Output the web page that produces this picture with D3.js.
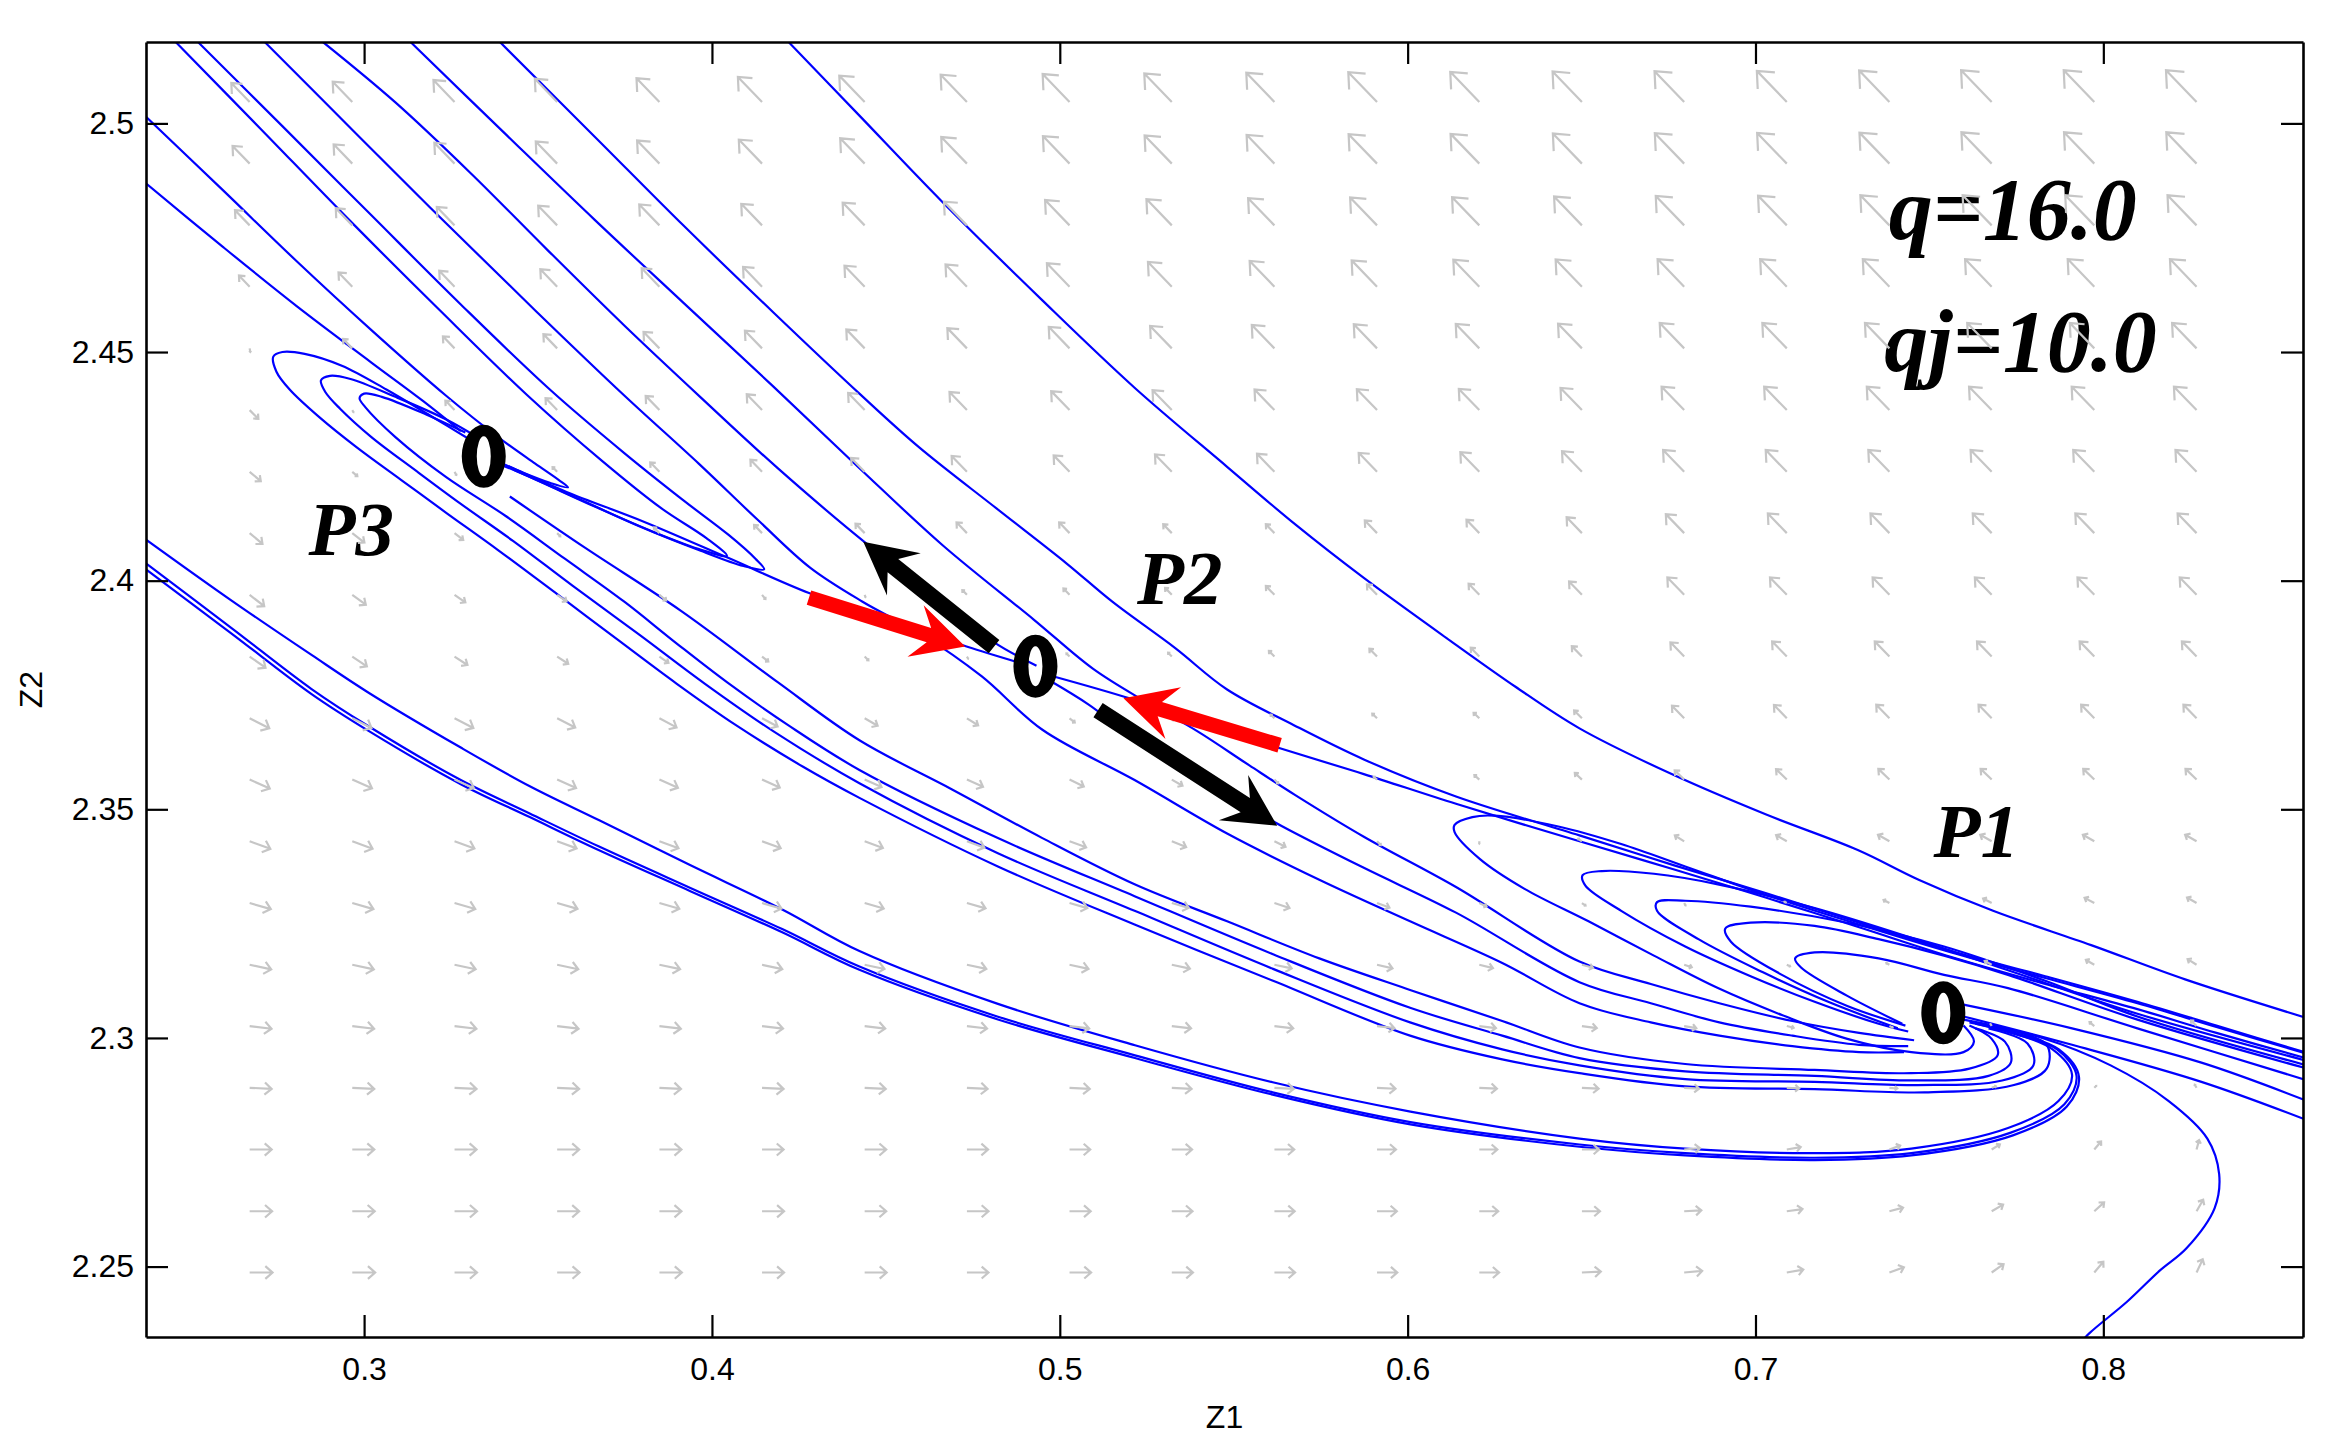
<!DOCTYPE html>
<html>
<head>
<meta charset="utf-8">
<script src="https://cdn.jsdelivr.net/npm/d3@7/dist/d3.min.js"></script>
<style>
  body { margin: 0; background: #fff; }
  svg { display: block; }
</style>
</head>
<body>
<div id="chart"></div>
<script>
// ---- axis limits and ticks ----
const z1Domain = [0.2373, 0.8574];
const z2Domain = [2.2346, 2.5178];
const xTicks = [0.3, 0.4, 0.5, 0.6, 0.7, 0.8];
const yTicks = [2.25, 2.3, 2.35, 2.4, 2.45, 2.5];

// ---- direction field (quiver) grid ----
const gridZ1 = [0.2671, 0.2966, 0.3260, 0.3555, 0.3849, 0.4144, 0.4439, 0.4733, 0.5028, 0.5322,
                0.5617, 0.5912, 0.6206, 0.6501, 0.6795, 0.7090, 0.7385, 0.7679, 0.7974, 0.8268];
const gridZ2 = [2.5047, 2.4912, 2.4777, 2.4643, 2.4508, 2.4373, 2.4238, 2.4104, 2.3969, 2.3834,
                2.3699, 2.3565, 2.3430, 2.3295, 2.3160, 2.3026, 2.2891, 2.2756, 2.2621, 2.2487];

// arrow direction in degrees (0 = right, 90 = up), one row per gridZ2 value
const fieldAngle = [
  [134,134,134,134,134,134,134,134,134,134,134,134,134,134,134,134,134,134,134,134],
  [134,134,134,134,134,134,134,134,134,134,134,134,134,134,134,134,134,134,134,134],
  [134,134,134,134,134,134,134,134,134,134,134,134,134,134,134,134,134,134,134,134],
  [134,134,134,134,134,134,134,134,134,134,134,134,134,134,134,134,134,134,134,134],
  [-80,134,134,134,134,134,134,134,134,134,134,134,134,134,134,134,134,134,134,134],
  [-45,-60,134,134,134,134,134,134,134,134,134,134,134,134,134,134,134,134,134,134],
  [-40,-40,-60,134,134,134,134,134,134,134,134,134,134,134,134,134,134,134,134,134],
  [-40,-38,-38,-45,134,134,134,134,134,134,134,134,134,134,134,134,134,134,134,134],
  [-38,-36,-35,-35,-40,-50,-70,134,134,134,134,134,134,134,134,134,134,134,134,134],
  [-35,-34,-33,-33,-35,-38,-45,-60,134,134,134,134,134,134,134,134,134,134,134,134],
  [-27,-27,-27,-27,-28,-28,-30,-32,-38,-60,136,136,136,135,134,134,134,134,134,134],
  [-24,-24,-24,-24,-24,-24,-24,-24,-26,-30,-45,140,138,137,136,136,136,136,136,136],
  [-20,-20,-20,-20,-20,-20,-20,-20,-20,-22,-26,-45,-90,145,148,150,150,150,150,150],
  [-16,-16,-16,-16,-16,-16,-16,-16,-16,-16,-18,-20,-25,-35,-60,150,152,152,152,150],
  [-12,-12,-12,-12,-12,-12,-12,-12,-12,-12,-12,-13,-14,-15,-18,-25,150,152,150,148],
  [-7,-7,-7,-7,-7,-7,-7,-7,-7,-7,-7,-7,-7,-8,-10,-14,-25,120,140,135],
  [-3,-3,-3,-3,-3,-3,-3,-3,-3,-3,-3,-3,-3,-3,-3,-3,-5,20,45,120],
  [0,0,0,0,0,0,0,0,0,0,0,0,0,0,5,10,20,32,50,75],
  [0,0,0,0,0,0,0,0,0,0,0,0,0,0,3,8,15,30,42,60],
  [0,0,0,0,0,0,0,0,0,0,0,0,0,3,5,10,20,35,50,65]
];

// relative arrow length (1 = longest arrow)
const fieldMag = [
  [0.60,0.64,0.69,0.73,0.75,0.79,0.83,0.86,0.88,0.90,0.92,0.94,0.95,0.96,0.97,0.98,0.99,1.00,1.00,1.00],
  [0.56,0.61,0.66,0.70,0.73,0.76,0.80,0.84,0.87,0.89,0.91,0.93,0.94,0.95,0.96,0.97,0.98,0.99,0.99,0.99],
  [0.48,0.54,0.58,0.62,0.66,0.68,0.72,0.75,0.80,0.83,0.86,0.88,0.89,0.91,0.93,0.94,0.95,0.95,0.95,0.95],
  [0.35,0.45,0.50,0.55,0.58,0.62,0.66,0.70,0.74,0.78,0.81,0.83,0.85,0.86,0.87,0.87,0.87,0.87,0.87,0.87],
  [0.08,0.30,0.38,0.45,0.52,0.56,0.60,0.64,0.68,0.71,0.74,0.76,0.77,0.78,0.80,0.80,0.80,0.80,0.80,0.80],
  [0.28,0.05,0.30,0.38,0.45,0.50,0.54,0.57,0.60,0.63,0.65,0.66,0.67,0.70,0.74,0.74,0.74,0.74,0.74,0.74],
  [0.33,0.15,0.08,0.15,0.30,0.38,0.44,0.50,0.52,0.55,0.57,0.60,0.62,0.65,0.69,0.69,0.69,0.69,0.69,0.69],
  [0.38,0.35,0.25,0.10,0.18,0.26,0.30,0.34,0.34,0.28,0.28,0.40,0.42,0.50,0.60,0.62,0.62,0.62,0.62,0.62],
  [0.42,0.38,0.30,0.26,0.20,0.12,0.05,0.15,0.20,0.22,0.28,0.33,0.35,0.42,0.55,0.55,0.55,0.55,0.55,0.55],
  [0.44,0.40,0.35,0.30,0.25,0.18,0.12,0.05,0.10,0.12,0.18,0.25,0.28,0.33,0.45,0.48,0.48,0.48,0.48,0.48],
  [0.50,0.49,0.48,0.46,0.44,0.40,0.34,0.30,0.15,0.05,0.12,0.15,0.18,0.25,0.40,0.42,0.43,0.43,0.43,0.43],
  [0.50,0.49,0.48,0.47,0.46,0.44,0.42,0.40,0.36,0.28,0.12,0.10,0.15,0.22,0.30,0.34,0.35,0.35,0.35,0.35],
  [0.50,0.49,0.48,0.47,0.46,0.45,0.44,0.42,0.40,0.35,0.28,0.12,0.05,0.10,0.25,0.28,0.30,0.30,0.30,0.30],
  [0.50,0.50,0.49,0.48,0.47,0.46,0.45,0.44,0.42,0.40,0.36,0.30,0.18,0.10,0.06,0.06,0.15,0.22,0.25,0.25],
  [0.50,0.50,0.49,0.49,0.48,0.47,0.46,0.45,0.44,0.42,0.40,0.36,0.32,0.26,0.18,0.08,0.08,0.18,0.22,0.24],
  [0.50,0.50,0.50,0.49,0.49,0.48,0.47,0.46,0.45,0.44,0.43,0.40,0.38,0.34,0.28,0.16,0.08,0.05,0.14,0.18],
  [0.50,0.50,0.50,0.50,0.49,0.49,0.48,0.47,0.46,0.45,0.44,0.42,0.40,0.38,0.34,0.28,0.18,0.10,0.06,0.08],
  [0.50,0.50,0.50,0.50,0.50,0.49,0.49,0.48,0.47,0.46,0.45,0.43,0.41,0.39,0.36,0.32,0.26,0.22,0.24,0.22],
  [0.51,0.51,0.51,0.50,0.50,0.50,0.49,0.49,0.48,0.47,0.46,0.45,0.43,0.41,0.39,0.36,0.32,0.30,0.30,0.30],
  [0.52,0.52,0.51,0.51,0.51,0.50,0.50,0.49,0.49,0.48,0.47,0.46,0.45,0.43,0.41,0.38,0.35,0.33,0.32,0.33]
];

// ---- trajectories, [Z1, Z2] ----
const trajT1 = [[0.4219,2.5179],[0.4424,2.5017],[0.4659,2.4831],[0.4950,2.4613],[0.5215,2.4422],[0.5481,2.4249],[0.5677,2.4123],[0.5874,2.4006],[0.6122,2.3869],[0.6310,2.3768],[0.6494,2.3677],[0.6759,2.3577],[0.7029,2.3489],[0.7294,2.3411],[0.7469,2.3346],[0.7683,2.3278],[0.7965,2.3203],[0.8235,2.3128],[0.8600,2.3040]];
const trajB = [[0.3389,2.5179],[0.3663,2.4971],[0.3919,2.4776],[0.4176,2.4587],[0.4424,2.4409],[0.4595,2.4292],[0.4818,2.4158],[0.5019,2.4038],[0.5151,2.3954],[0.5331,2.3853],[0.5481,2.3762],[0.5673,2.3684],[0.5874,2.3609],[0.6139,2.3528],[0.6494,2.3443],[0.6764,2.3378],[0.7029,2.3317],[0.7298,2.3252],[0.7563,2.3190],[0.7833,2.3135],[0.8098,2.3079],[0.8325,2.3027],[0.8600,2.2964]];
const trajC = [[0.3132,2.5179],[0.3406,2.4977],[0.3663,2.4789],[0.3919,2.4607],[0.4176,2.4425],[0.4424,2.4246],[0.4664,2.4077],[0.4925,2.3915],[0.5096,2.3807],[0.5245,2.3736],[0.5395,2.3671],[0.5545,2.3596],[0.5677,2.3531],[0.5874,2.3440],[0.6139,2.3330],[0.6494,2.3167],[0.6699,2.3118],[0.6896,2.3076],[0.7106,2.3037],[0.7298,2.3011],[0.7456,2.2995]];
const trajStableRight = [[0.4980,2.3791],[0.5203,2.3742],[0.5416,2.3687],[0.5626,2.3635],[0.5874,2.3577],[0.6139,2.3512],[0.6494,2.3430],[0.6764,2.3369],[0.7029,2.3307],[0.7298,2.3242],[0.7563,2.3177],[0.7833,2.3118],[0.8098,2.3063],[0.8325,2.3011],[0.8600,2.2952]];
const trajStableLeft = [[0.3415,2.4250],[0.3582,2.4194],[0.3804,2.4129],[0.4043,2.4051],[0.4279,2.3973],[0.4518,2.3911],[0.4732,2.3856],[0.4886,2.3820]];
const trajUnstableUp = [[0.4933,2.3814],[0.4809,2.3866],[0.4625,2.3976],[0.4446,2.4080],[0.4189,2.4246],[0.3966,2.4402],[0.3748,2.4558],[0.3526,2.4724],[0.3308,2.4890],[0.3090,2.5046],[0.2880,2.5179]];
const trajUnstableDown = [[0.4972,2.3781],[0.5083,2.3729],[0.5215,2.3655],[0.5348,2.3599],[0.5519,2.3515],[0.5639,2.3463],[0.5874,2.3372],[0.6139,2.3274],[0.6494,2.3122],[0.6699,2.3076],[0.6896,2.3034],[0.7106,2.3005],[0.7298,2.2985],[0.7439,2.2982]];
const trajL = [[0.2713,2.5179],[0.2978,2.4977],[0.3235,2.4782],[0.3492,2.4591],[0.3748,2.4405],[0.3962,2.4256],[0.4133,2.4132],[0.4283,2.4028],[0.4433,2.3954],[0.4604,2.3882],[0.4775,2.3791],[0.4950,2.3674],[0.5215,2.3564],[0.5481,2.3447],[0.5746,2.3346],[0.6007,2.3255],[0.6272,2.3164],[0.6494,2.3076],[0.6699,2.3034],[0.6896,2.3005],[0.7106,2.2982],[0.7298,2.2969],[0.7427,2.2969]];
const trajH1 = [[0.2360,2.5024],[0.2594,2.4854],[0.2807,2.4698],[0.3021,2.4548],[0.3235,2.4405],[0.3385,2.4314],[0.3492,2.4256],[0.3560,2.4220],[0.3586,2.4204],[0.3534,2.4214],[0.3458,2.4236],[0.3398,2.4256]];
const trajH2 = [[0.2457,2.5179],[0.2700,2.4990],[0.2957,2.4789],[0.3214,2.4594],[0.3470,2.4405],[0.3684,2.4262],[0.3855,2.4158],[0.3984,2.4093],[0.4043,2.4054],[0.3971,2.4067],[0.3834,2.4106],[0.3663,2.4162],[0.3513,2.4214],[0.3428,2.4243]];
const trajH3 = [[0.2521,2.5179],[0.2765,2.4994],[0.3021,2.4799],[0.3278,2.4604],[0.3534,2.4418],[0.3748,2.4279],[0.3919,2.4175],[0.4048,2.4100],[0.4125,2.4048],[0.4150,2.4025],[0.4091,2.4032],[0.3962,2.4067],[0.3791,2.4119],[0.3620,2.4178],[0.3449,2.4236],[0.3385,2.4256]];
const trajP3Left = [[0.2360,2.4877],[0.2594,2.4730],[0.2807,2.4600],[0.3021,2.4477],[0.3171,2.4392],[0.3278,2.4327]];
const trajOuter = [[0.3312,2.4305],[0.3192,2.4360],[0.3064,2.4418],[0.2936,2.4470],[0.2829,2.4496],[0.2765,2.4500],[0.2739,2.4490],[0.2748,2.4457],[0.2786,2.4418],[0.2872,2.4357],[0.2978,2.4292],[0.3107,2.4220],[0.3235,2.4149],[0.3385,2.4067],[0.3556,2.3970],[0.3727,2.3872],[0.3898,2.3775],[0.4069,2.3684],[0.4262,2.3593],[0.4424,2.3525],[0.4822,2.3375],[0.5215,2.3248],[0.5613,2.3125],[0.6007,2.3005],[0.6272,2.2953],[0.6494,2.2923],[0.6798,2.2894],[0.7170,2.2888],[0.7486,2.2881],[0.7743,2.2897],[0.7837,2.2933],[0.7837,2.2985],[0.7709,2.3021]];
const trajMid = [[0.3325,2.4314],[0.3235,2.4353],[0.3090,2.4402],[0.2961,2.4441],[0.2902,2.4448],[0.2876,2.4438],[0.2889,2.4412],[0.2931,2.4376],[0.3021,2.4314],[0.3150,2.4240],[0.3278,2.4168],[0.3428,2.4087],[0.3599,2.3989],[0.3791,2.3882],[0.3979,2.3775],[0.4176,2.3671],[0.4424,2.3557],[0.4822,2.3404],[0.5215,2.3278],[0.5613,2.3151],[0.6007,2.3034],[0.6272,2.2975],[0.6494,2.2940],[0.6798,2.2910],[0.7170,2.2904],[0.7465,2.2897],[0.7709,2.2907],[0.7799,2.2940],[0.7782,2.2988],[0.7670,2.3021]];
const trajInner = [[0.3291,2.4324],[0.3180,2.4363],[0.3051,2.4402],[0.3000,2.4409],[0.2987,2.4399],[0.3004,2.4379],[0.3090,2.4314],[0.3235,2.4227],[0.3406,2.4142],[0.3577,2.4048],[0.3748,2.3954],[0.3898,2.3863],[0.4043,2.3778],[0.4219,2.3684],[0.4424,2.3586],[0.4822,2.3437],[0.5215,2.3310],[0.5613,2.3183],[0.6007,2.3066],[0.6272,2.3005],[0.6494,2.2956],[0.6798,2.2927],[0.7170,2.2917],[0.7448,2.2907],[0.7670,2.2917],[0.7734,2.2946],[0.7717,2.2992],[0.7632,2.3021]];
const trajBelowP3 = [[0.3419,2.4184],[0.3637,2.4071],[0.3911,2.3934],[0.4189,2.3778],[0.4424,2.3651],[0.4689,2.3544],[0.4950,2.3437],[0.5215,2.3336],[0.5481,2.3255],[0.5746,2.3174],[0.6007,2.3105],[0.6272,2.3037],[0.6494,2.2979],[0.6798,2.2943],[0.7170,2.2930],[0.7448,2.2923],[0.7615,2.2933],[0.7696,2.2962],[0.7679,2.2998],[0.7615,2.3027]];
const trajLowU = [[0.2360,2.4097],[0.2618,2.3957],[0.2850,2.3837],[0.3013,2.3755],[0.3278,2.3635],[0.3475,2.3551],[0.3676,2.3476],[0.3937,2.3378],[0.4202,2.3281],[0.4424,2.3190],[0.4820,2.3075],[0.5216,2.2984],[0.5612,2.2903],[0.6008,2.2839],[0.6494,2.2780],[0.6798,2.2758],[0.7170,2.2748],[0.7448,2.2758],[0.7726,2.2803],[0.7871,2.2862],[0.7910,2.2920],[0.7854,2.2975],[0.7726,2.3014],[0.7615,2.3034]];
const trajLow1 = [[0.2360,2.4045],[0.2618,2.3897],[0.2849,2.3763],[0.3014,2.3681],[0.3278,2.3564],[0.3476,2.3491],[0.3674,2.3419],[0.3938,2.3328],[0.4202,2.3238],[0.4424,2.3156],[0.4820,2.3047],[0.5216,2.2962],[0.5612,2.2881],[0.6008,2.2816],[0.6494,2.2767],[0.6798,2.2748],[0.7170,2.2738],[0.7448,2.2748],[0.7734,2.2793],[0.7888,2.2855],[0.7923,2.2917],[0.7867,2.2975],[0.7734,2.3011],[0.7632,2.3031]];
const trajLow2 = [[0.2360,2.4032],[0.2618,2.3885],[0.2849,2.3752],[0.3014,2.3671],[0.3278,2.3555],[0.3476,2.3483],[0.3674,2.3411],[0.3938,2.3321],[0.4202,2.3231],[0.4424,2.3149],[0.4820,2.3041],[0.5216,2.2956],[0.5612,2.2876],[0.6008,2.2811],[0.6494,2.2762],[0.6798,2.2743],[0.7170,2.2733],[0.7448,2.2743],[0.7740,2.2787],[0.7895,2.2850],[0.7930,2.2915],[0.7872,2.2975],[0.7738,2.3013],[0.7640,2.3033]];
const trajLoopA = [[0.8600,2.2962],[0.8325,2.3024],[0.8098,2.3076],[0.7833,2.3131],[0.7563,2.3187],[0.7298,2.3248],[0.7029,2.3313],[0.6798,2.3375],[0.6614,2.3424],[0.6430,2.3463],[0.6250,2.3486],[0.6186,2.3483],[0.6135,2.3466],[0.6135,2.3450],[0.6208,2.3391],[0.6336,2.3326],[0.6520,2.3255],[0.6708,2.3180],[0.6892,2.3109],[0.7076,2.3050],[0.7264,2.2998],[0.7448,2.2969],[0.7598,2.2969],[0.7628,2.2992],[0.7598,2.3027]];
const trajLoopB = [[0.8600,2.2947],[0.8098,2.3053],[0.7726,2.3148],[0.7448,2.3219],[0.7170,2.3284],[0.6892,2.3336],[0.6708,2.3359],[0.6558,2.3365],[0.6503,2.3356],[0.6511,2.3333],[0.6614,2.3278],[0.6798,2.3200],[0.6986,2.3135],[0.7170,2.3079],[0.7354,2.3031],[0.7439,2.3014]];
const trajLoopC = [[0.8600,2.2937],[0.8098,2.3047],[0.7833,2.3125],[0.7542,2.3200],[0.7264,2.3252],[0.6986,2.3287],[0.6798,2.3300],[0.6717,2.3297],[0.6717,2.3278],[0.6836,2.3216],[0.7020,2.3144],[0.7209,2.3079],[0.7409,2.3021]];
const trajLoopD = [[0.8600,2.2930],[0.8098,2.3040],[0.7726,2.3138],[0.7542,2.3180],[0.7354,2.3216],[0.7170,2.3245],[0.6986,2.3252],[0.6913,2.3239],[0.6930,2.3210],[0.7076,2.3138],[0.7264,2.3070],[0.7431,2.3027]];
const trajLoopE = [[0.8600,2.2904],[0.8098,2.3021],[0.7726,2.3109],[0.7542,2.3138],[0.7354,2.3174],[0.7170,2.3187],[0.7114,2.3174],[0.7131,2.3154],[0.7264,2.3092],[0.7422,2.3031]];
const trajRight1 = [[0.7598,2.3073],[0.7910,2.3021],[0.8282,2.2946],[0.8600,2.2858]];
const trajRight2 = [[0.7598,2.3047],[0.7910,2.2985],[0.8282,2.2904],[0.8600,2.2816]];
const trajSweep = [[0.7598,2.3040],[0.7820,2.3001],[0.8021,2.2940],[0.8188,2.2862],[0.8299,2.2780],[0.8333,2.2702],[0.8320,2.2628],[0.8239,2.2540],[0.8162,2.2491],[0.8068,2.2423],[0.7961,2.2355],[0.7930,2.2330]];

const trajectories = [trajT1, trajB, trajC, trajStableRight, trajStableLeft, trajUnstableUp, trajUnstableDown,
  trajL, trajH1, trajH2, trajH3, trajP3Left, trajOuter, trajMid, trajInner, trajBelowP3,
  trajLowU, trajLow1, trajLow2, trajLoopA, trajLoopB, trajLoopC, trajLoopD, trajLoopE,
  trajRight1, trajRight2, trajSweep];

// ---- equilibria, labels, manifold arrows ----
const fixedPoints = [[0.7540, 2.3055], [0.4930, 2.3813], [0.3344, 2.4272]];
const pointNames = ['P1', 'P2', 'P3'];
const pointLabelPos = [[0.7512, 2.3395], [0.5222, 2.3948], [0.2840, 2.4056]];
const paramText = ['q=16.0', 'qj=10.0'];
const paramPos = [[0.7383, 2.4748], [0.7370, 2.4458]];
const stableArrows = [
  { tail: [0.4279, 2.3963], tip: [0.4728, 2.3856] },
  { tail: [0.5632, 2.3640], tip: [0.5183, 2.3743] }
];
const unstableArrows = [
  { tail: [0.4811, 2.3856], tip: [0.4435, 2.4085] },
  { tail: [0.5110, 2.3717], tip: [0.5625, 2.3464] }
];

// ---- layout ----
const width = 2333, height = 1437;
const margin = { top: 42, right: 30, bottom: 100, left: 146 };
const plotW = width - margin.left - margin.right;
const plotH = height - margin.top - margin.bottom;

const x = d3.scaleLinear().domain(z1Domain).range([0, plotW]);
const y = d3.scaleLinear().domain(z2Domain).range([plotH, 0]);

const svg = d3.select('#chart').append('svg')
  .attr('width', width)
  .attr('height', height);

svg.append('defs').append('clipPath').attr('id', 'clip')
  .append('rect').attr('width', plotW).attr('height', plotH);

const g = svg.append('g').attr('transform', `translate(${margin.left},${margin.top})`);

// Trajectories
const line = d3.line()
  .x(d => x(d[0]))
  .y(d => y(d[1]))
  .curve(d3.curveCatmullRom.alpha(0.5));

g.append('g')
  .attr('clip-path', 'url(#clip)')
  .selectAll('path')
  .data(trajectories)
  .join('path')
  .attr('d', line)
  .attr('fill', 'none')
  .attr('stroke', '#0000ff')
  .attr('stroke-width', 2.2);

// Text labels (drawn under the quiver like the original)
const serif = '"Liberation Serif", "Times New Roman", serif';

g.append('g')
  .selectAll('text')
  .data(pointNames)
  .join('text')
  .attr('x', (d, i) => x(pointLabelPos[i][0]))
  .attr('y', (d, i) => y(pointLabelPos[i][1]))
  .style('font-family', serif)
  .style('font-weight', 'bold')
  .style('font-style', 'italic')
  .style('font-size', '77px')
  .text(d => d);

g.append('g')
  .selectAll('text')
  .data(paramText)
  .join('text')
  .attr('x', (d, i) => x(paramPos[i][0]))
  .attr('y', (d, i) => y(paramPos[i][1]))
  .style('font-family', serif)
  .style('font-weight', 'bold')
  .style('font-style', 'italic')
  .style('font-size', '88px')
  .text(d => d);

// Direction field: wide open heads like MATLAB quiver
const maxArrow = 44;
const vectors = gridZ2.flatMap((zy, r) => gridZ1.map((zx, c) => ({
  zx, zy, ang: fieldAngle[r][c], mag: fieldMag[r][c]
})));

g.append('g')
  .attr('clip-path', 'url(#clip)')
  .selectAll('path')
  .data(vectors)
  .join('path')
  .attr('d', d => {
    const len = d.mag * maxArrow;
    const a = d.ang * Math.PI / 180;
    const x0 = x(d.zx), y0 = y(d.zy);
    const x1 = x0 + len * Math.cos(a), y1 = y0 - len * Math.sin(a);
    const h = len * 0.42, s = 0.72;
    const hx1 = x1 - h * Math.cos(a - s), hy1 = y1 + h * Math.sin(a - s);
    const hx2 = x1 - h * Math.cos(a + s), hy2 = y1 + h * Math.sin(a + s);
    return `M${x0},${y0}L${x1},${y1}M${hx1},${hy1}L${x1},${y1}L${hx2},${hy2}`;
  })
  .attr('fill', 'none')
  .attr('stroke', '#c6c6c6')
  .attr('stroke-width', 2.2);

// Thick manifold arrows
function arrowShape(d, shaftW) {
  const x0 = x(d.tail[0]), y0 = y(d.tail[1]);
  const x1 = x(d.tip[0]), y1 = y(d.tip[1]);
  const len = Math.hypot(x1 - x0, y1 - y0);
  const ux = (x1 - x0) / len, uy = (y1 - y0) / len;
  const nx = -uy, ny = ux;
  const headL = 52, headW = 27, notch = 38, w = shaftW / 2;
  const pts = [
    [x0 + nx * w, y0 + ny * w],
    [x1 - ux * notch + nx * w, y1 - uy * notch + ny * w],
    [x1 - ux * headL + nx * headW, y1 - uy * headL + ny * headW],
    [x1, y1],
    [x1 - ux * headL - nx * headW, y1 - uy * headL - ny * headW],
    [x1 - ux * notch - nx * w, y1 - uy * notch - ny * w],
    [x0 - nx * w, y0 - ny * w]
  ];
  return 'M' + pts.map(p => p.join(',')).join('L') + 'Z';
}

g.append('g')
  .selectAll('path')
  .data(stableArrows)
  .join('path')
  .attr('d', d => arrowShape(d, 15))
  .attr('fill', '#ff0000');

g.append('g')
  .selectAll('path')
  .data(unstableArrows)
  .join('path')
  .attr('d', d => arrowShape(d, 17))
  .attr('fill', '#000');

// Equilibrium markers (thick "0" rings)
const ring = (cx, cy) => {
  const R = [22, 31.5], r = [7, 20];
  return `M${cx - R[0]},${cy}a${R[0]},${R[1]} 0 1,0 ${2 * R[0]},0a${R[0]},${R[1]} 0 1,0 ${-2 * R[0]},0Z` +
         `M${cx - r[0]},${cy}a${r[0]},${r[1]} 0 1,0 ${2 * r[0]},0a${r[0]},${r[1]} 0 1,0 ${-2 * r[0]},0Z`;
};

g.append('g')
  .selectAll('path')
  .data(fixedPoints)
  .join('path')
  .attr('d', d => ring(x(d[0]), y(d[1])))
  .attr('fill', '#000')
  .attr('fill-rule', 'evenodd');

// Axes (box with inward ticks on all sides)
const tickFont = '"Liberation Sans", Arial, sans-serif';

const xAxis = g.append('g')
  .attr('transform', `translate(0,${plotH})`)
  .call(d3.axisBottom(x).tickValues(xTicks).tickSize(-22).tickSizeOuter(0).tickPadding(20).tickFormat(d3.format('')));
const xAxisTop = g.append('g')
  .call(d3.axisTop(x).tickValues(xTicks).tickSize(-22).tickSizeOuter(0).tickFormat(''));
const yAxis = g.append('g')
  .call(d3.axisLeft(y).tickValues(yTicks).tickSize(-22).tickSizeOuter(0).tickPadding(12).tickFormat(d3.format('')));
const yAxisRight = g.append('g')
  .attr('transform', `translate(${plotW},0)`)
  .call(d3.axisRight(y).tickValues(yTicks).tickSize(-22).tickSizeOuter(0).tickFormat(''));

[xAxis, xAxisTop, yAxis, yAxisRight].forEach(a => {
  a.select('.domain').attr('stroke', '#000').attr('stroke-width', 2.6);
  a.selectAll('.tick line').attr('stroke', '#000').attr('stroke-width', 2.2);
  a.selectAll('.tick text')
    .attr('fill', '#000')
    .style('font-family', tickFont)
    .style('font-size', '32px');
});

// Axis titles
g.append('text')
  .attr('x', plotW / 2)
  .attr('y', plotH + 91)
  .attr('text-anchor', 'middle')
  .style('font-family', tickFont)
  .style('font-size', '32px')
  .text('Z1');

g.append('text')
  .attr('transform', `translate(${-104},${plotH / 2}) rotate(-90)`)
  .attr('text-anchor', 'middle')
  .style('font-family', tickFont)
  .style('font-size', '32px')
  .text('Z2');
</script>
</body>
</html>
